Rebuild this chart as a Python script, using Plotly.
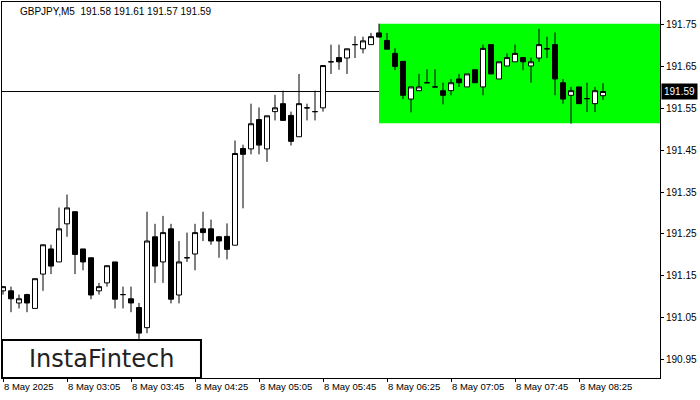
import plotly.graph_objects as go

# ---- data ----
symbol_title = "GBPJPY,M5  191.58 191.61 191.57 191.59"

opens = [191.114, 191.114, 191.085, 191.105, 191.072, 191.154, 191.214, 191.183, 191.274, 191.303,
         191.214, 191.193, 191.114, 191.133, 191.183, 191.105, 191.095, 191.074, 191.026, 191.243,
         191.183, 191.262, 191.104, 191.193, 191.202, 191.262, 191.262, 191.243, 191.244, 191.223,
         191.454, 191.453, 191.523, 191.453, 191.542, 191.561, 191.533, 191.482, 191.551, 191.542,
         191.551, 191.661, 191.671, 191.670, 191.702, 191.692, 191.702, 191.730, 191.712, 191.681,
         191.662, 191.572, 191.592, 191.611, 191.601, 191.592, 191.592, 191.620, 191.601, 191.642,
         191.601, 191.702, 191.620, 191.651, 191.661, 191.671, 191.651, 191.670, 191.692, 191.702,
         191.611, 191.581, 191.601, 191.573, 191.561, 191.580]
highs = [191.124, 191.124, 191.105, 191.107, 191.143, 191.224, 191.224, 191.313, 191.344, 191.303,
         191.214, 191.193, 191.133, 191.174, 191.183, 191.124, 191.124, 191.085, 191.303, 191.274,
         191.293, 191.274, 191.233, 191.253, 191.274, 191.303, 191.284, 191.245, 191.275, 191.473,
         191.463, 191.561, 191.552, 191.532, 191.582, 191.592, 191.542, 191.632, 191.561, 191.592,
         191.652, 191.702, 191.702, 191.692, 191.722, 191.721, 191.730, 191.752, 191.730, 191.693,
         191.662, 191.601, 191.632, 191.643, 191.643, 191.611, 191.620, 191.632, 191.632, 191.642,
         191.702, 191.702, 191.661, 191.681, 191.702, 191.671, 191.671, 191.740, 191.721, 191.731,
         191.620, 191.601, 191.601, 191.611, 191.601, 191.610]
lows = [191.105, 191.063, 191.072, 191.063, 191.072, 191.114, 191.154, 191.183, 191.243, 191.154,
        191.163, 191.094, 191.105, 191.124, 191.072, 191.072, 191.063, 190.999, 191.013, 191.133,
        191.133, 191.084, 191.084, 191.183, 191.163, 191.233, 191.224, 191.193, 191.189, 191.223,
        191.311, 191.440, 191.440, 191.422, 191.521, 191.521, 191.461, 191.482, 191.521, 191.521,
        191.542, 191.632, 191.642, 191.632, 191.670, 191.681, 191.702, 191.720, 191.691, 191.641,
        191.572, 191.540, 191.592, 191.611, 191.601, 191.559, 191.581, 191.601, 191.601, 191.611,
        191.581, 191.632, 191.620, 191.651, 191.661, 191.641, 191.611, 191.661, 191.670, 191.581,
        191.561, 191.513, 191.561, 191.541, 191.541, 191.570]
closes = [191.124, 191.095, 191.095, 191.085, 191.143, 191.224, 191.173, 191.262, 191.312, 191.201,
          191.183, 191.104, 191.124, 191.174, 191.094, 191.105, 191.085, 191.013, 191.233, 191.173,
          191.253, 191.094, 191.183, 191.193, 191.253, 191.253, 191.233, 191.233, 191.213, 191.442,
          191.440, 191.513, 191.462, 191.532, 191.551, 191.521, 191.471, 191.561, 191.551, 191.542,
          191.652, 191.661, 191.661, 191.692, 191.702, 191.711, 191.721, 191.720, 191.691, 191.650,
          191.581, 191.601, 191.601, 191.611, 191.601, 191.581, 191.611, 191.611, 191.632, 191.611,
          191.693, 191.632, 191.661, 191.671, 191.681, 191.661, 191.661, 191.702, 191.692, 191.620,
          191.572, 191.592, 191.561, 191.573, 191.592, 191.590]

bar_index = list(range(len(opens)))  # 5-minute bars starting 02:25

tick_bars = [0, 8, 16, 24, 32, 40, 48, 56, 64, 72]
tick_labels = ["8 May 2025", "8 May 03:05", "8 May 03:45", "8 May 04:25", "8 May 05:05",
               "8 May 05:45", "8 May 06:25", "8 May 07:05", "8 May 07:45", "8 May 08:25"]

price_ticks = [190.95, 191.05, 191.15, 191.25, 191.35, 191.45, 191.55, 191.65, 191.75]
price_labels = ["190.95", "191.05", "191.15", "191.25", "191.35", "191.45", "191.55", "191.65", "191.75"]

current_price = 191.59
zone_start_bar = 47
zone_top = 191.752
zone_bottom = 191.514

x_range = [-0.125, 82.125]
y_range = [190.9058, 191.8038]

font_family = "Liberation Sans, DejaVu Sans, sans-serif"

fig = go.Figure()
fig.add_trace(go.Candlestick(
    x=bar_index, open=opens, high=highs, low=lows, close=closes,
    increasing=dict(line=dict(color="black", width=1), fillcolor="white"),
    decreasing=dict(line=dict(color="black", width=1), fillcolor="black"),
    whiskerwidth=0, showlegend=False, hoverinfo="skip",
))

# green zone
fig.add_shape(type="rect", xref="x", yref="y", x0=zone_start_bar, x1=x_range[1],
              y0=zone_bottom, y1=zone_top, fillcolor="#00FF00", line=dict(width=0), layer="below")
# current price line
fig.add_shape(type="line", xref="paper", yref="y", x0=0, x1=1, y0=current_price, y1=current_price,
              line=dict(color="black", width=1), layer="below")

# logo box
fig.add_shape(type="rect", xref="paper", yref="paper", x0=0, x1=0.3024, y0=0, y1=0.101,
              fillcolor="white", line=dict(color="black", width=2), layer="above")
fig.add_annotation(xref="paper", yref="paper", x=0.151, y=0.05, text="InstaFintech",
                   showarrow=False, font=dict(family="DejaVu Sans, sans-serif", size=24, color="#222222"),
                   xanchor="center", yanchor="middle")

# title
fig.add_annotation(xref="paper", yref="paper", x=0.0243, y=0.976, text=symbol_title,
                   showarrow=False, font=dict(family=font_family, size=10, color="black"),
                   xanchor="left", yanchor="middle")

# current price label
fig.add_annotation(xref="paper", yref="y", x=1.0, y=current_price, text="191.59",
                   showarrow=False, font=dict(family=font_family, size=10, color="white"),
                   bgcolor="black", xanchor="left", yanchor="middle", borderpad=2, xshift=1)

fig.update_layout(
    width=700, height=400,
    margin=dict(l=2, r=40, t=2, b=22),
    paper_bgcolor="white", plot_bgcolor="white",
    boxgap=0.375, boxgroupgap=0,
    font=dict(family=font_family, size=10, color="black"),
    xaxis=dict(range=x_range, tickvals=tick_bars, ticktext=tick_labels,
               ticks="outside", ticklen=3, tickcolor="black", showgrid=False, zeroline=False,
               showline=True, linecolor="black", linewidth=1, mirror=True,
               ticklabelposition="outside right", tickfont=dict(size=9.5),
               rangeslider=dict(visible=False)),
    yaxis=dict(range=y_range, tickvals=price_ticks, ticktext=price_labels, side="right",
               ticks="outside", ticklen=3, tickcolor="black", showgrid=False, zeroline=False,
               showline=True, linecolor="black", linewidth=1, mirror=True,
               tickfont=dict(size=10)),
)

fig.write_html("out.html", config={"displayModeBar": False},
               post_script="document.body.style.margin='0';document.body.style.overflow='hidden';")
